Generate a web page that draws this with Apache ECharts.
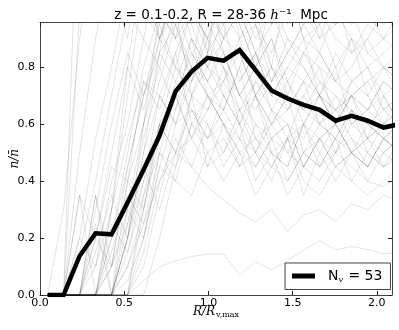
<!DOCTYPE html>
<html>
<head>
    <meta charset="utf-8">
    <title>void profiles</title>
    <script src="https://cdn.jsdelivr.net/npm/echarts@6/dist/echarts.min.js"></script>
    <style type="text/css">
        html,body{margin:0;padding:0;background:#fff;}
        #main{width:399px;height:330px;}
    </style>
</head>
<body>
    <div id="main"></div>
    <script type="text/javascript">
        // radial bin centres, R / R_v,max
        var radius = [0.045,0.14,0.235,0.33,0.425,0.52,0.615,0.71,0.805,0.9,0.995,1.09,1.185,1.28,1.375,1.47,1.565,1.66,1.755,1.85,1.945,2.04,2.135];
        // stacked (mean) profile, thick black line
        var meanProfile = [0,0,0.137,0.217,0.213,0.325,0.44,0.56,0.715,0.785,0.833,0.823,0.86,0.79,0.718,0.69,0.668,0.65,0.612,0.629,0.612,0.588,0.60];
        // individual voids (thin grey lines)
        var voidProfiles = [
            [0,0,1.6,1.2,1.1,0.9,1.3,1.0,0.95,1.1,0.85,1.2,0.9,1.0,0.8,1.1,0.9,0.95,1.05,0.85,0.9,1.0,0.95],
            [0,0,0.35,0,0.3,0.8,1.2,0.9,1.0,0.7,0.85,1.1,0.95,0.8,0.9,0.7,0.85,0.8,0.75,0.9,0.7,0.8,0.75],
            [0,0,0,0,0,0,0.05,0.1,0.12,0.135,0.144,0.144,0.07,0.117,0.088,0.12,0.158,0.19,0.158,0.17,0.16,0.144,0.15],
            [0,0,0,0,0,0.1,0.25,0.4,0.5,0.45,0.38,0.334,0.288,0.258,0.3,0.222,0.28,0.3,0.258,0.32,0.3,0.35,0.33],
            [0,0,0,0.35,0,0.2,0.5,0.7,0.6,0.65,0.55,0.6,0.5,0.45,0.55,0.4,0.5,0.55,0.45,0.5,0.6,0.55,0.5],
            [0,0,0,0,0.2,0.45,0.7,0.9,1.1,0.95,0.8,0.75,0.9,0.7,0.6,0.65,0.75,0.6,0.7,0.65,0.55,0.7,0.6],
            [0,0,0,0.2,0.1,0.3,0.6,0.8,0.65,0.9,0.7,0.6,0.55,0.7,0.5,0.45,0.6,0.7,0.65,0.55,0.5,0.45,0.55],
            [0,0,0,0,0,0.25,0.55,0.75,0.95,0.8,1.1,0.85,0.7,0.8,0.9,0.75,0.65,0.7,0.8,0.6,0.65,0.75,0.7],
            [0,0,0,0,0,0,0.3,0.6,0.5,0.7,0.45,0.5,0.6,0.4,0.5,0.35,0.45,0.4,0.5,0.45,0.4,0.38,0.42],
            [0,0,0.2,0.1,0.4,0.6,0.9,1.2,1.0,0.95,1.05,0.9,1.0,0.85,0.95,1.1,0.9,0.85,1.0,0.9,0.8,0.85,0.9],
            [0,0,0,0,0,0.15,0.4,0.7,0.85,0.6,0.7,0.65,0.8,0.55,0.6,0.7,0.5,0.6,0.55,0.65,0.5,0.6,0.55],
            [0,0,0,0.25,0,0,0.2,0.5,0.4,0.35,0.5,0.55,0.45,0.6,0.5,0.55,0.35,0.5,0.6,0.5,0.45,0.55,0.5],
            [0,0,0,0,0.3,0.7,1.1,0.9,0.8,1.0,0.85,0.95,0.75,0.85,0.7,0.8,0.9,0.7,0.6,0.75,0.8,0.65,0.7],
            [0,0,0,0,0,0,0.1,0.35,0.6,0.75,0.9,0.7,0.6,0.75,0.65,0.55,0.7,0.8,0.6,0.7,0.55,0.6,0.65],
            [0,0.3,0.9,1.3,1.0,1.2,1.0,1.1,0.9,1.0,1.15,0.95,1.05,0.9,1.0,0.85,0.95,1.0,0.9,0.85,0.95,0.9,0.85],
            [0,0,0,0,0.15,0.35,0.25,0.5,0.7,0.55,0.65,0.8,0.6,0.7,0.55,0.6,0.45,0.55,0.6,0.5,0.55,0.6,0.5],
            [0,0,0,0.15,0.35,0.2,0.4,0.55,0.7,0.85,0.75,0.65,0.8,0.95,0.8,0.7,0.65,0.75,0.7,0.6,0.65,0.7,0.6],
            [0,0,0,0,0,0.2,0.45,0.3,0.5,0.65,0.6,0.45,0.55,0.5,0.4,0.55,0.5,0.45,0.55,0.4,0.5,0.45,0.48],
            [0,0,0.5,0.9,1.2,1.0,1.1,0.95,1.2,1.0,0.9,1.05,1.1,0.95,0.85,1.0,1.1,0.9,0.95,1.0,0.85,0.9,1.0],
            [0,0,0,0,0,0,0,0.2,0.45,0.7,0.8,0.9,1.0,0.85,0.75,0.9,0.8,0.7,0.85,0.75,0.8,0.7,0.75],
            [0,0,0,0.3,0.6,0.85,0.7,0.95,0.8,0.75,0.95,0.85,0.7,0.8,0.65,0.75,0.85,0.75,0.65,0.7,0.75,0.65,0.7],
            [0,0,0,0,0.1,0.4,0.75,0.65,0.85,1.0,0.9,1.1,0.95,0.8,1.05,0.9,0.85,0.95,0.8,0.9,0.85,0.8,0.85],
            [0,0,0,0,0,0.3,0.2,0.45,0.4,0.6,0.5,0.4,0.5,0.35,0.45,0.55,0.4,0.35,0.45,0.4,0.35,0.4,0.45],
            [0,0,0.15,0.4,0.7,1.0,0.9,0.8,1.0,0.85,0.75,0.9,0.85,0.7,0.8,0.75,0.6,0.7,0.65,0.75,0.7,0.6,0.65],
            [0,0,0,0,0.2,0.5,0.8,1.0,0.9,1.15,1.0,0.9,1.2,1.05,0.95,1.1,1.0,0.9,1.05,0.95,1.0,0.9,0.95],
            [0,0,0,0,0,0.1,0.3,0.55,0.75,0.65,0.55,0.7,0.6,0.5,0.65,0.6,0.55,0.65,0.5,0.6,0.55,0.5,0.55],
            [0,0,0.35,0.2,0.5,0.8,0.65,0.9,1.1,0.9,0.8,1.0,0.9,0.95,0.75,0.85,0.95,0.85,0.75,0.8,0.9,0.8,0.75],
            [0,0,0,0,0,0,0.15,0.4,0.55,0.45,0.6,0.5,0.65,0.55,0.5,0.45,0.6,0.55,0.5,0.65,0.6,0.55,0.6],
            [0,0,0,0.2,0.45,0.4,0.6,0.85,0.75,0.9,0.8,0.7,0.75,0.85,0.7,0.8,0.75,0.85,0.75,0.7,0.75,0.8,0.7],
            [0,0,0,0,0,0.2,0.5,0.85,1.2,1.0,0.9,0.8,0.7,0.6,0.55,0.5,0.6,0.45,0.55,0.5,0.45,0.55,0.5],
            [0,0,0,0,0.1,0.25,0.45,0.6,0.5,0.55,0.7,0.6,0.45,0.5,0.6,0.5,0.45,0.55,0.45,0.5,0.4,0.5,0.45],
            [0,0,1.0,1.4,1.2,1.1,1.3,1.0,1.2,1.1,1.0,1.15,1.05,1.1,0.95,1.0,1.1,1.05,0.95,1.0,1.05,0.95,1.0],
            [0,0,0,0,0,0.4,0.3,0.6,0.8,0.7,0.65,0.75,0.85,0.7,0.8,0.65,0.7,0.6,0.65,0.7,0.6,0.55,0.6],
            [0,0,0,0.1,0.3,0.55,0.75,0.7,0.6,0.8,0.75,0.85,0.7,0.65,0.75,0.85,0.8,0.7,0.6,0.7,0.65,0.75,0.7],
            [0,0,0,0,0,0,0.35,0.6,0.7,0.55,0.45,0.6,0.5,0.55,0.45,0.4,0.5,0.45,0.5,0.55,0.45,0.5,0.55],
            [0,0,0.2,0.55,0.8,1.1,1.0,0.9,1.05,1.2,1.0,0.95,1.1,1.0,1.05,0.95,1.15,1.0,0.95,1.05,1.0,1.1,1.0],
            [0,0,0,0,0,0.2,0.6,1.0,0.9,0.8,0.7,0.6,0.65,0.5,0.45,0.55,0.6,0.5,0.4,0.5,0.45,0.55,0.5],
            [0,0,0,0,0.25,0.15,0.35,0.5,0.45,0.6,0.55,0.65,0.55,0.45,0.55,0.6,0.45,0.55,0.6,0.5,0.55,0.45,0.5],
            [0,0,0,0.35,0.1,0.45,0.7,0.85,0.95,0.75,0.85,0.8,0.65,0.75,0.7,0.65,0.75,0.7,0.6,0.7,0.65,0.6,0.7],
            [0,0,0,0,0,0.05,0.2,0.45,0.65,0.8,0.7,0.75,0.65,0.7,0.6,0.7,0.65,0.6,0.55,0.65,0.6,0.65,0.6]
        ];
        var xTicks = [0.0, 0.5, 1.0, 1.5, 2.0];
        var yTicks = [0.0, 0.2, 0.4, 0.6, 0.8];
        var nVoids = 53;

        function pairs(ys){
            var out = [];
            for(var i=0;i<radius.length;i++){ out.push([radius[i], ys[i]]); }
            return out;
        }
        // only the listed tick values get a label
        function tickLabel(list){
            return function(v){
                for(var i=0;i<list.length;i++){ if(Math.abs(list[i]-v)<1e-6) return list[i].toFixed(1); }
                return '';
            };
        }

        var frame = {show:true, onZero:false, lineStyle:{color:'#444', width:1}};
        var tick = {show:true, inside:true, length:4, lineStyle:{color:'#222', width:1}};
        var labelFont = {color:'#000', fontSize:11, fontFamily:'DejaVu Sans'};

        var series = [];
        for(var k=0;k<voidProfiles.length;k++){
            series.push({
                type:'line', data:pairs(voidProfiles[k]), symbol:'none', silent:true, clip:true,
                lineStyle:{color:'rgba(0,0,0,0.11)', width:1}, z:1
            });
        }
        series.push({
            name:'mean', type:'line', data:pairs(meanProfile), symbol:'none', clip:true,
            itemStyle:{color:'#000'},
            lineStyle:{color:'#000', width:4.5, join:'miter'}, z:5
        });

        var myChart = echarts.init(document.getElementById('main'));
        var option = {
            animation:false,
            title:{
                text:'{n|z = 0.1-0.2, R = 28-36 }{i|h}{n|⁻¹  Mpc}',
                left:216, top:3, textAlign:'center',
                textStyle:{fontWeight:'normal', rich:{
                    n:{fontSize:13.5, fontWeight:'normal', fontFamily:'DejaVu Sans', color:'#000'},
                    i:{fontSize:13.5, fontWeight:'normal', fontFamily:'DejaVu Serif', fontStyle:'italic', color:'#000'}
                }}
            },
            legend:{
                data:['mean'], left:285, top:263, width:104, height:25,
                orient:'horizontal', padding:[6,8,6,7],
                backgroundColor:'#fff', borderColor:'#444', borderWidth:1, borderRadius:0,
                icon:'rect', itemWidth:23, itemHeight:5, itemGap:0,
                formatter:function(){ return '{n|N}{s|v}{n| = ' + nVoids + '}'; },
                textStyle:{padding:[0,0,0,8], rich:{
                    n:{fontSize:14, fontFamily:'DejaVu Sans', color:'#000'},
                    s:{fontSize:8, fontFamily:'DejaVu Serif', fontStyle:'italic', color:'#000', padding:[7,1,0,0]}
                }}
            },
            grid:{left:40, right:7, top:22.5, bottom:35, containLabel:false, outerBoundsMode:'none'},
            xAxis:[
                {
                    type:'value', min:0, max:2.09, interval:0.5,
                    name:'{i|R/R}{s|v,max}', nameLocation:'middle', nameGap:9, nameMoveOverlap:false,
                    nameTextStyle:{rich:{
                        i:{fontSize:12, fontFamily:'DejaVu Serif', fontStyle:'italic', color:'#000'},
                        s:{fontSize:8, fontFamily:'DejaVu Serif', color:'#000', padding:[7,0,0,1]}
                    }},
                    axisLine:frame, axisTick:tick, splitLine:{show:false},
                    axisLabel:Object.assign({margin:3, showMaxLabel:false, formatter:tickLabel(xTicks)}, labelFont)
                },
                {
                    type:'value', min:0, max:2.09, interval:0.5, position:'top',
                    axisLine:frame, axisTick:tick, splitLine:{show:false}, axisLabel:{show:false}
                }
            ],
            yAxis:[
                {
                    type:'value', min:0, max:0.957, interval:0.2,
                    name:'n/n\u0304', nameLocation:'middle', nameGap:19, nameRotate:90, nameMoveOverlap:false,
                    nameTextStyle:{fontSize:12, fontFamily:'DejaVu Serif', fontStyle:'italic', color:'#000'},
                    axisLine:frame, axisTick:tick, splitLine:{show:false},
                    axisLabel:Object.assign({margin:5, showMaxLabel:false, formatter:tickLabel(yTicks)}, labelFont)
                },
                {
                    type:'value', min:0, max:0.957, interval:0.2, position:'right',
                    axisLine:frame, axisTick:tick, splitLine:{show:false}, axisLabel:{show:false}
                }
            ],
            series:series
        };
        myChart.setOption(option);
    </script>
</body>
</html>
